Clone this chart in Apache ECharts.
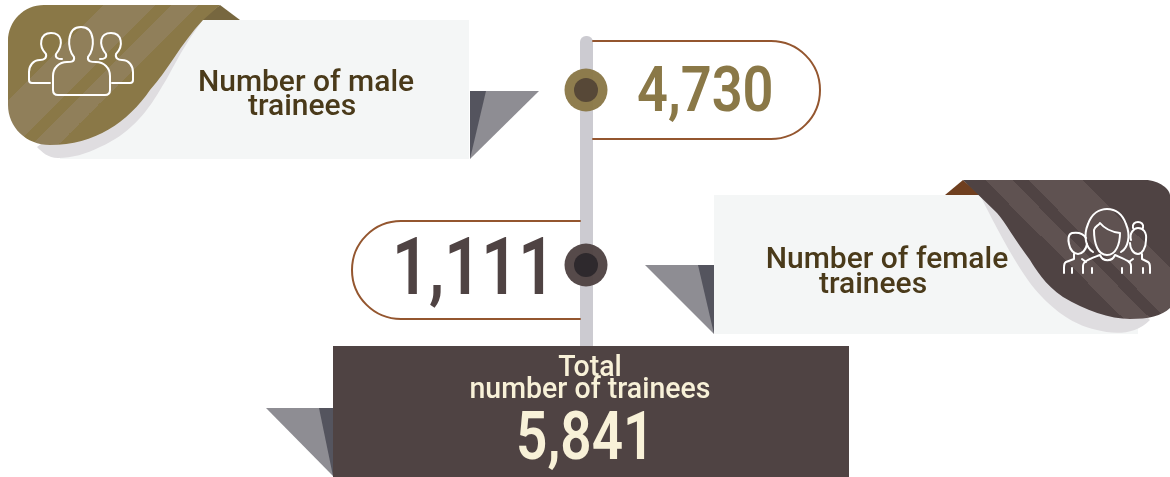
<!DOCTYPE html>
<html>
<head>
<meta charset="utf-8">
<script src="https://cdn.jsdelivr.net/npm/echarts@6/dist/echarts.min.js"></script>
<style>
  html, body { margin: 0; padding: 0; background: #fff; }
  #main { width: 1170px; height: 477px; }
</style>
</head>
<body>
<div id="main"></div>
<script>
var maleLabel = ['Number of male', 'trainees']
var femaleLabel = ['Number of female', 'trainees']
var totalLabel = ['Total', 'number of trainees']
var maleCount = 4730
var femaleCount = 1111
var totalCount = 5841

var OLIVE = '#8a7847'
var OLIVE_LIGHT = '#907f5a'
var DARK = '#4f4343'
var DARK_LIGHT = '#5f5251'
var CARD = '#f4f6f6'
var SHADOW = '#dfdde0'
var INK = '#4a3a1a'
var CREAM = '#f8f1d8'
var PILL = '#94562f'
var POLE = '#cccbd1'
var FOLD_LIGHT = '#8e8d93'
var FOLD_DARK = '#54545e'
var FONT = 'Roboto, "Noto Sans", sans-serif'

function fmt(n) { return n.toLocaleString('en-US') }

// hard-edged stripes: bands are [from, to] offsets on the gradient
function stripes(x, y, x2, y2, base, light, bands) {
  var stops = [{ offset: 0, color: base }]
  bands.forEach(function(b) {
    stops.push({ offset: b[0], color: base }, { offset: b[0], color: light })
    stops.push({ offset: b[1], color: light }, { offset: b[1], color: base })
  })
  stops.push({ offset: 1, color: base })
  return { type: 'linear', x: x, y: y, x2: x2, y2: y2, global: true, colorStops: stops }
}

function shape(d, fill) {
  return { type: 'path', shape: { pathData: d }, style: { fill: fill } }
}
function line(d, color, width) {
  return { type: 'path', shape: { pathData: d }, style: { fill: 'none', stroke: color, lineWidth: width, lineCap: 'round', lineJoin: 'round' } }
}
function poly(points, fill) {
  return { type: 'polygon', shape: { points: points }, style: { fill: fill } }
}
function circle(cx, cy, r, fill, opacity) {
  return { type: 'circle', shape: { cx: cx, cy: cy, r: r }, style: { fill: fill, opacity: opacity } }
}
// baseline is converted to the em middle, zrender has no alphabetic alignment
function label(text, x, baseline, size, color, align, sx, weight) {
  return {
    type: 'text', x: x, y: baseline - size * 0.24, scaleX: sx,
    style: {
      text: text, x: 0, y: 0, fill: color, fontFamily: FONT, fontSize: size,
      fontWeight: weight, align: align, verticalAlign: 'middle'
    }
  }
}

var elements = [
  // pole
  { type: 'rect', shape: { x: 580, y: 36, width: 13, height: 330, r: [6, 6, 0, 0] }, style: { fill: POLE } },

  // male card
  poly([[200, 20], [220, 5], [240, 20]], '#77673f'),
  { type: 'rect', shape: { x: 60, y: 20, width: 409, height: 139 }, style: { fill: CARD } },
  shape('M203 20C180 50 172 72 160 90C146 114 128 135 100 147C86 154 72 158 58 158C48 158 42 152 37 147Z', SHADOW),
  shape('M44 5H220L203 20C180 45 168 70 150 90C128 122 95 145 50 145C26 145 8 127 8 105V41C8 21 24 5 44 5Z',
    stripes(0, 0, 150, 150, OLIVE, OLIVE_LIGHT, [[108 / 300, 160 / 300], [177 / 300, 203 / 300]])),
  poly([[470, 91], [539, 91], [470, 159]], FOLD_LIGHT),
  poly([[470, 91], [486, 91], [470, 159]], FOLD_DARK),

  // male icon
  line('M74 57C67 50 66 27 81 27C96 27 95 50 88 57C87 62 92 62 96 62C104 62 110 68 110 76V90Q110 95 105 95H58Q53 95 53 90V76C53 68 59 62 67 62C71 62 75 62 74 57Z', '#fff', 2),
  line('M62 59C58 59 55 58 56 54C64 44 62 33 51 33C40 33 38 46 46 54C47 58 44 60 40 60C33 60 29 66 29 72V80Q29 83 32 83H50', '#fff', 2),
  line('M100 59C104 59 107 58 106 54C98 44 100 33 111 33C122 33 124 46 116 54C115 58 118 60 122 60C129 60 133 66 133 72V80Q133 83 130 83H112', '#fff', 2),

  // female card
  poly([[945, 195], [963, 180], [980, 195]], '#6f3f1f'),
  { type: 'rect', shape: { x: 714, y: 195, width: 424, height: 139 }, style: { fill: CARD } },
  shape('M980 195C990 215 1010 255 1030 283C1045 303 1070 325 1097 330C1112 334 1135 336 1150 320L1130 300Z', SHADOW),
  shape('M963 180H1145C1160 180 1170 190 1170 195V308C1162 316 1148 319 1130 319C1110 319 1085 310 1063 297C1045 285 1035 268 1030 260C1015 240 1005 222 997 213Z',
    stripes(850, 150, 1000, 0, DARK, DARK_LIGHT, [[105 / 300, 132 / 300], [148 / 300, 202 / 300]])),
  poly([[645, 265], [714, 265], [714, 334]], FOLD_LIGHT),
  poly([[698, 265], [714, 265], [714, 334]], FOLD_DARK),

  // female icon
  line('M1093 252C1086 248 1083 236 1088 224C1092 213 1100 209 1107 209C1115 209 1122 213 1126 224C1131 236 1128 248 1121 252', '#fff', 2),
  line('M1094 230C1094 244 1098 255 1107 255C1116 255 1120 244 1120 233C1112 232 1104 228 1100 223C1098 226 1095 226 1094 230Z', '#fff', 2),
  line('M1083 273V266C1083 261 1090 259 1100 255C1103 262 1112 262 1115 255C1124 259 1131 261 1131 266V273M1092 268V273M1122 268V273', '#fff', 2),
  line('M1086 238C1083 233 1078 232 1072 233C1068 234 1068 240 1069 244C1070 250 1074 254 1078 254C1082 254 1086 250 1087 244M1074 254V259L1066 262C1064 263 1064 265 1064 268V273M1072 268V273M1082 259L1086 262', '#fff', 2),
  line('M1131 240C1129 233 1134 228 1138 228C1143 228 1147 232 1146 240C1146 248 1142 254 1138 254C1133 254 1130 248 1130 243M1133 228C1132 224 1135 222 1138 222C1141 222 1144 224 1143 228M1142 254V259L1148 262C1150 263 1150 265 1150 268V273M1143 268V273M1133 259L1129 262', '#fff', 2),

  // pills
  line('M593 41H771A49 49 0 0 1 771 139H593', PILL, 2),
  line('M580 221H401A49 49 0 0 0 401 319H580', PILL, 2),

  // markers
  circle(586, 90, 21.5, OLIVE, 0.96),
  circle(586, 90, 12, '#544636', 0.96),
  circle(586, 265, 21.5, DARK, 0.96),
  circle(586, 265, 12, '#2d282c', 0.96),

  // total panel
  poly([[266, 408], [333, 408], [333, 476]], FOLD_LIGHT),
  poly([[319, 408], [333, 408], [333, 476]], FOLD_DARK),
  { type: 'rect', shape: { x: 333, y: 346, width: 516, height: 131 }, style: { fill: DARK } },

  // texts
  label(maleLabel[0], 306, 91, 30, INK, 'center', 1, 500),
  label(maleLabel[1], 302, 115, 30, INK, 'center', 1, 500),
  label(femaleLabel[0], 887, 268, 30, INK, 'center', 1, 500),
  label(femaleLabel[1], 873, 293, 30, INK, 'center', 1, 500),
  label(totalLabel[0], 590, 376, 30, CREAM, 'center', 0.95, 500),
  label(totalLabel[1], 590, 398, 30, CREAM, 'center', 0.95, 500),
  label(fmt(maleCount), 637, 110, 63, OLIVE, 'left', 0.86, 600),
  label(fmt(femaleCount), 392, 293, 79, DARK, 'left', 0.82, 600),
  label(fmt(totalCount), 516, 458, 67, CREAM, 'left', 0.82, 600)
]

var chart = echarts.init(document.getElementById('main'), null, { renderer: 'canvas' })
chart.setOption({
  animation: false,
  backgroundColor: '#fff',
  series: [{
    type: 'custom',
    coordinateSystem: 'none',
    silent: true,
    clip: false,
    data: [[0]],
    renderItem: function() {
      return { type: 'group', children: elements }
    }
  }]
})
window.addEventListener('resize', function() { chart.resize() })
</script>
</body>
</html>
